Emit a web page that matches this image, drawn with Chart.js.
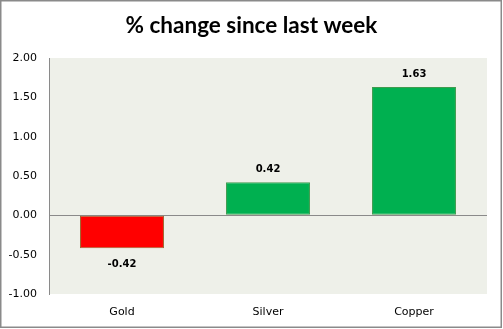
<!DOCTYPE html>
<html>
<head>
<meta charset="utf-8">
<script src="https://cdn.jsdelivr.net/npm/chart.js@4.4.1/dist/chart.umd.min.js"></script>
<style>
  html, body { margin: 0; padding: 0; background: #ffffff; }
  #wrap { width: 503px; height: 329px; }
</style>
</head>
<body>
<div id="wrap"><canvas id="c" width="503" height="329"></canvas></div>
<script>
// Weekly percentage change per metal
const categories = ['Gold', 'Silver', 'Copper'];
const changes = [-0.42, 0.42, 1.63];
const yTicks = [-1.00, -0.50, 0.00, 0.50, 1.00, 1.50, 2.00];

const fillUp = '#00B050';
const fillDown = '#FF0000';
const edgeUp = '#3F9B4E';
const edgeDown = '#A0642E';

// Light tinted plot background and outer frame
const backdrop = {
  id: 'backdrop',
  beforeDraw(chart) {
    const { ctx, chartArea: a } = chart;
    ctx.save();
    ctx.fillStyle = '#ffffff';
    ctx.fillRect(0, 0, chart.width, chart.height);
    ctx.fillStyle = '#EEF0E9';
    ctx.fillRect(a.left, a.top, a.right - a.left, a.bottom - a.top);
    ctx.restore();
  },
  afterDraw(chart) {
    const { ctx } = chart;
    ctx.save();
    ctx.strokeStyle = '#8a8a8a';
    ctx.lineWidth = 1.5;
    ctx.strokeRect(0.75, 0.75, chart.width - 2.5, chart.height - 2.5);
    ctx.restore();
  }
};

// Value labels above positive bars, below negative bars
const valueLabels = {
  id: 'valueLabels',
  afterDatasetsDraw(chart) {
    const { ctx } = chart;
    const meta = chart.getDatasetMeta(0);
    ctx.save();
    ctx.font = 'bold 10px "DejaVu Sans"';
    ctx.fillStyle = '#000000';
    ctx.textAlign = 'center';
    ctx.textBaseline = 'middle';
    meta.data.forEach((bar, i) => {
      const v = changes[i];
      const y = v >= 0 ? bar.y - 13 : bar.y + 16;
      ctx.fillText(v.toFixed(2), bar.x, y);
    });
    ctx.restore();
  }
};

new Chart(document.getElementById('c'), {
  type: 'bar',
  data: {
    labels: categories,
    datasets: [{
      data: changes,
      backgroundColor: changes.map(v => v < 0 ? fillDown : fillUp),
      borderColor: changes.map(v => v < 0 ? edgeDown : edgeUp),
      borderWidth: 1,
      borderSkipped: false,
      categoryPercentage: 1,
      barPercentage: 0.575
    }]
  },
  options: {
    responsive: false,
    animation: false,
    devicePixelRatio: 1,
    layout: { padding: 0 },
    plugins: {
      legend: { display: false },
      tooltip: { enabled: false },
      title: {
        display: true,
        text: '% change since last week',
        color: '#000000',
        font: { family: 'Lato', weight: 'bold', size: 22.5 },
        padding: { top: 12, bottom: 19 }
      }
    },
    scales: {
      x: {
        grid: { display: false, drawTicks: false },
        border: { display: false },
        ticks: {
          color: '#000000',
          font: { family: 'DejaVu Sans', size: 11 },
          padding: 12
        },
        afterFit(scale) { scale.height = 35; }
      },
      y: {
        min: -1,
        max: 2,
        afterBuildTicks(scale) {
          scale.ticks = yTicks.map(v => ({ value: v }));
        },
        grid: {
          drawTicks: false,
          color: ctx => (ctx.tick && ctx.tick.value === 0) ? '#8a8a8a' : 'rgba(0,0,0,0)',
          lineWidth: 1
        },
        border: { display: true, color: '#8a8a8a', width: 1 },
        ticks: {
          color: '#000000',
          font: { family: 'DejaVu Sans', size: 11 },
          padding: 12,
          callback: v => Number(v).toFixed(2)
        },
        afterFit(scale) { scale.width = 49; }
      },
      // empty right-hand margin strip beside the plot
      yRight: {
        position: 'right',
        min: -1,
        max: 2,
        grid: { display: false, drawTicks: false },
        border: { display: false },
        ticks: { display: false },
        afterFit(scale) { scale.width = 16; }
      }
    }
  },
  plugins: [backdrop, valueLabels]
});
</script>
</body>
</html>
